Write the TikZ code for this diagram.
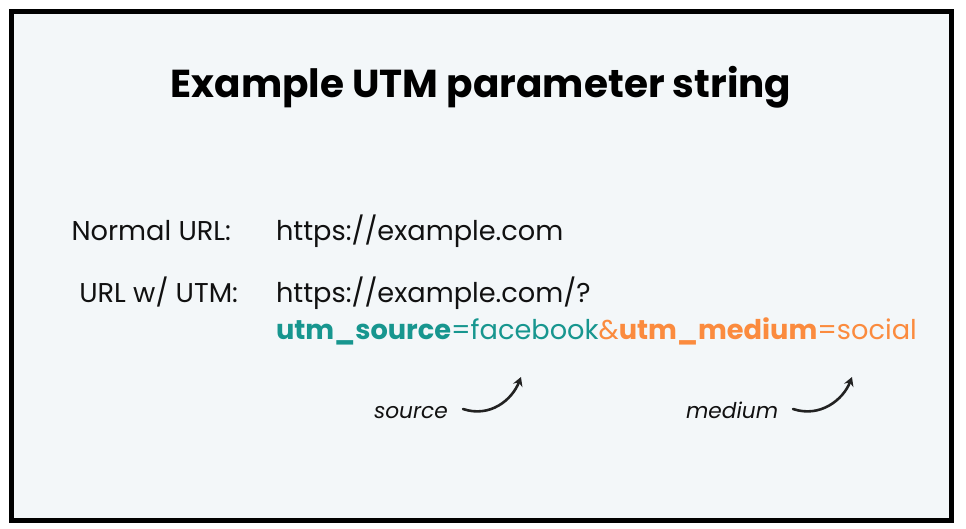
\documentclass[tikz,border=0pt]{standalone}
\usepackage{fontspec}
\setmainfont{Poppins}
\definecolor{bgc}{HTML}{F3F7F9}
\definecolor{teal}{HTML}{17968F}
\definecolor{orng}{HTML}{FB8B3E}
\definecolor{ink}{HTML}{111111}
\definecolor{arr}{HTML}{222222}
\tikzset{
  txt/.style={inner sep=0pt, outer sep=0pt, anchor=base west, text=ink, font=\fontsize{27.3}{32}\selectfont},
  lbl/.style={inner sep=0pt, outer sep=0pt, anchor=base west, text=ink, font=\fontsize{21.8}{25}\selectfont\itshape},
  curl/.style={draw=arr, line width=2.6pt, line cap=round, -{Stealth[length=9pt,width=10pt,inset=3pt]}}
}
\usetikzlibrary{arrows.meta}
\begin{document}
\begin{tikzpicture}[x=1bp,y=-1bp]
\useasboundingbox (0,0) rectangle (966,529);
\fill[white] (0,0) rectangle (966,529);
\draw[fill=bgc, line width=5bp] (11.5,12) rectangle (951.5,520.5);
\node[inner sep=0pt, anchor=base, text=black, font=\fontsize{39.1}{45}\selectfont\bfseries] (title) at (481,98) {Example UTM parameter string};
\node[txt, anchor=base east] (nl) at (231,241) {Normal URL:};
\node[txt] (nu) at (276,241) {https://example.com};
\node[txt, anchor=base east] (ul) at (238,303) {URL w/ UTM:};
\node[txt] (uu) at (276,303) {https://example.com/?};
\node[txt] (up) at (276,340) {\textcolor{teal}{\bfseries utm\_source}\textcolor{teal}{=facebook}\textcolor{orng}{\&}\textcolor{orng}{\bfseries utm\_medium}\textcolor{orng}{=social}};
\node[lbl] (ls) at (374,418) {source};
\node[lbl] (lm) at (686,418) {medium};
\coordinate (s1) at (463,409);
\coordinate (s2) at (521,377);
\coordinate (m1) at (793,409);
\coordinate (m2) at (852,377);
\draw[curl] (s1) .. controls (490,418) and (512,400) .. (s2);
\draw[curl] (m1) .. controls (820,418) and (843,400) .. (m2);
\end{tikzpicture}
\end{document}
